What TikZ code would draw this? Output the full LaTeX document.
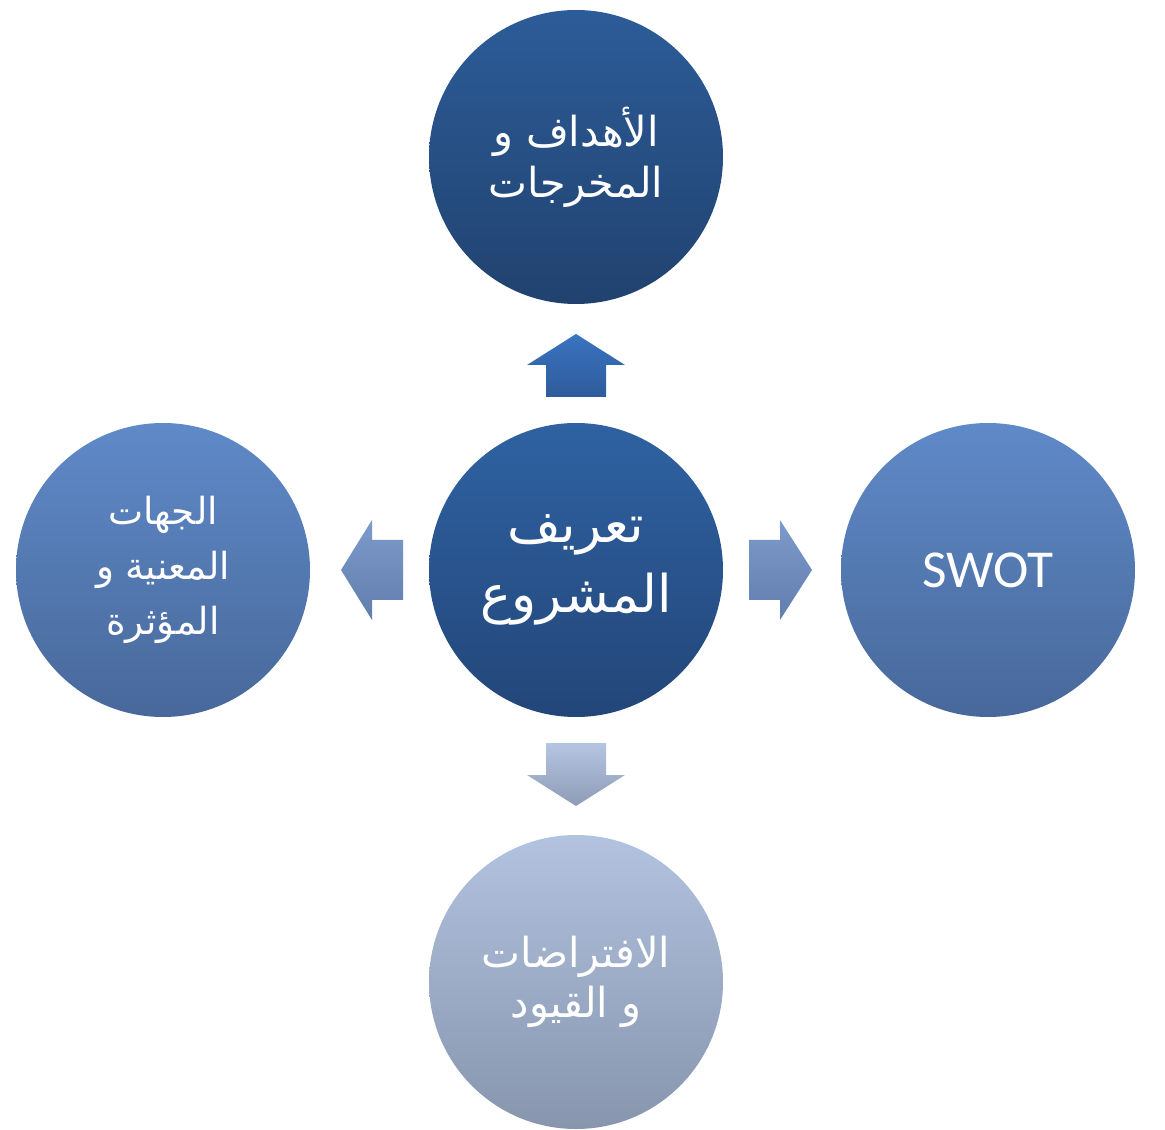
\documentclass[tikz,border=0pt]{standalone}
\usepackage{fontspec}
\setmainfont{Carlito}
\newfontfamily\arabicfont[Script=Arabic]{DejaVu Sans}
\TeXXeTstate=1
\begin{document}
\begin{tikzpicture}[x=0.75pt,y=-0.75pt,
  bubble/.style={circle, minimum size=220.5pt, inner sep=0pt, text=white, align=center, shading=axis},
  blockarrow/.style={shading=axis},
  artext/.style={font=\arabicfont\fontsize{31}{40}\selectfont},
]
\useasboundingbox (0,0) rectangle (1165,1130);
% circles
\node[bubble, top color={rgb,255:red,44;green,92;blue,152}, bottom color={rgb,255:red,33;green,66;blue,111}, artext] (goals) at (576,157)
  {\beginR الأهداف و\endR\\[-2pt]\beginR المخرجات\endR};
\node[bubble, top color={rgb,255:red,47;green,98;blue,162}, bottom color={rgb,255:red,35;green,70;blue,121}, font=\arabicfont\fontsize{39}{52}\selectfont] (def) at (576,570)
  {\beginR تعريف\endR\\\beginR المشروع\endR};
\node[bubble, top color={rgb,255:red,95;green,138;blue,200}, bottom color={rgb,255:red,72;green,104;blue,154}, font=\arabicfont\fontsize{28}{41}\selectfont] (stake) at (163,570)
  {\beginR الجهات\endR\\\beginR المعنية و\endR\\\beginR المؤثرة\endR};
\node[bubble, top color={rgb,255:red,95;green,138;blue,200}, bottom color={rgb,255:red,72;green,104;blue,154}, font=\fontsize{40}{48}\selectfont] (swot) at (988,570) {SWOT};
\node[bubble, top color={rgb,255:red,178;green,195;blue,224}, bottom color={rgb,255:red,135;green,149;blue,173}, artext] (assume) at (576,982)
  {\beginR الافتراضات\endR\\[-2pt]\beginR و القيود\endR};
% block arrows
\shade[blockarrow, top color={rgb,255:red,58;green,115;blue,191}, bottom color={rgb,255:red,46;green,92;blue,156}]
  (546,397) -- (546,365) -- (527,365) -- (576,334) -- (625,365) -- (606,365) -- (606,397) -- cycle;
\shade[blockarrow, top color={rgb,255:red,124;green,154;blue,203}, bottom color={rgb,255:red,97;green,126;blue,173}]
  (403,540) -- (372,540) -- (372,520) -- (341,570) -- (372,620) -- (372,600) -- (403,600) -- cycle;
\shade[blockarrow, top color={rgb,255:red,124;green,154;blue,203}, bottom color={rgb,255:red,97;green,126;blue,173}]
  (749,540) -- (780,540) -- (780,520) -- (812,570) -- (780,620) -- (780,600) -- (749,600) -- cycle;
\shade[blockarrow, top color={rgb,255:red,180;green,197;blue,226}, bottom color={rgb,255:red,142;green,155;blue,181}]
  (546,743) -- (606,743) -- (606,775) -- (625,775) -- (576,806) -- (527,775) -- (546,775) -- cycle;
\end{tikzpicture}
\end{document}
